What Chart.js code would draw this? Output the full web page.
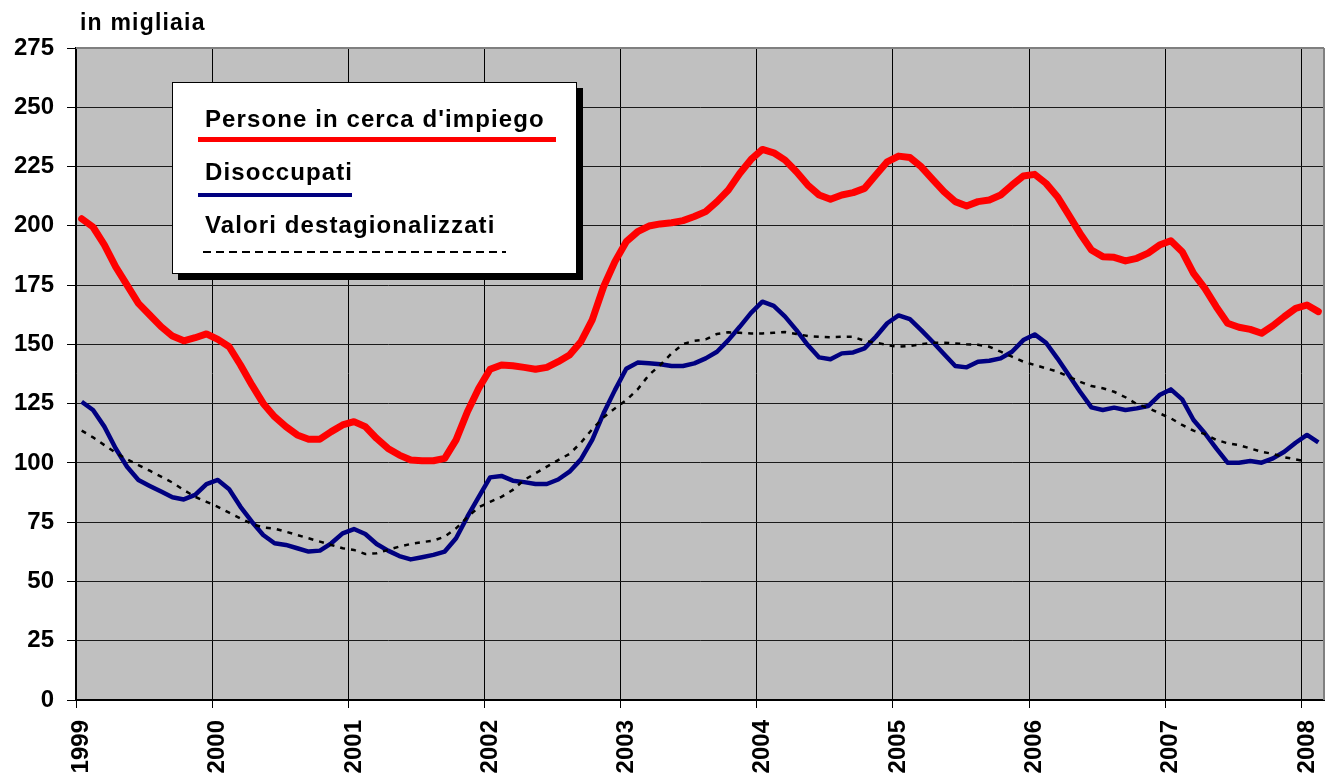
<!DOCTYPE html>
<html>
<head>
<meta charset="utf-8">
<script src="https://cdn.jsdelivr.net/npm/chart.js@4/dist/chart.umd.min.js"></script>
<style>
  html, body { margin: 0; padding: 0; background: #fff; }
  #wrap { position: relative; width: 1331px; height: 782px; font-family: "Liberation Sans", Arial, sans-serif; font-weight: bold; color: #000; }
  canvas { position: absolute; left: 0; top: 0; }
  .t { position: absolute; white-space: nowrap; line-height: 24px; height: 24px; }
  #unit { left: 80px; top: 10px; font-size: 23px; letter-spacing: 1.2px; }
  #legbox { position: absolute; left: 172px; top: 82px; width: 403px; height: 190px; background: #fff; border: 1px solid #000; box-shadow: 6px 6px 0 #000; }
  .lt { font-size: 24px; letter-spacing: 1.1px; }
  .ln { position: absolute; }
</style>
</head>
<body>
<div id="wrap">
  <canvas id="c" width="1331" height="782"></canvas>
  <div id="unit" class="t">in migliaia</div>
  <div id="legbox"></div>
  <div class="t lt" id="l1" style="left:205px; top:107px;"></div>
  <div class="ln" style="left:198px; top:137px; width:358px; height:5px; background:#ff0000;"></div>
  <div class="t lt" id="l2" style="left:205px; top:160px;"></div>
  <div class="ln" style="left:198px; top:193px; width:154px; height:4px; background:#000080;"></div>
  <div class="t lt" id="l3" style="left:205px; top:213px;"></div>
  <div class="ln" style="left:203px; top:251px; width:303px; height:2px; background:repeating-linear-gradient(to right,#000 0 8px,transparent 8px 13px);"></div>
</div>
<script>
// ---- data ----
const years = ['1999','2000','2001','2002','2003','2004','2005','2006','2007','2008'];
const monthNames = ['gen','feb','mar','apr','mag','giu','lug','ago','set','ott','nov','dic'];
const categories = years.flatMap(y => monthNames.map(m => m + ' ' + y)).slice(0, 110);

const seriesNames = ["Persone in cerca d'impiego", 'Disoccupati', 'Valori destagionalizzati'];

const persone = [
  203, 199.5, 192, 182.7, 175, 167.3, 162.4, 157.5, 153.5, 151.5, 152.8, 154.4,
  152.1, 149, 141.3, 132.9, 125.1, 119.5, 115.3, 111.8, 110, 110, 113.2, 116,
  117.4, 115.3, 110.3, 106.1, 103.3, 101.2, 100.9, 100.9, 101.9, 109.7, 121.6, 131.5,
  139.5, 141.3, 141, 140.3, 139.5, 140.3, 142.7, 145.5, 151.1, 160.3, 174.3, 184.9,
  193.3, 197.5, 199.9, 200.8, 201.3, 202.2, 203.9, 206, 210.2, 215.1, 222.1, 228,
  232.2, 230.8, 227.7, 222.8, 217.2, 213, 211.2, 213, 214, 215.8, 221.4, 227,
  229.4, 228.8, 224.9, 219.6, 214.4, 210.2, 208.4, 210.2, 210.9, 213, 217.2, 221,
  221.7, 217.9, 212.3, 204.6, 196.8, 189.8, 187, 186.7, 185.2, 186.3, 188.5, 191.9,
  193.7, 189.1, 179.9, 173.6, 165.9, 158.9, 157.2, 156.3, 154.7, 157.9, 161.7, 165.2,
  166.6, 163.8
];

const disoccupati = [
  125.8, 122.3, 115.3, 106.1, 98.4, 92.8, 90.3, 87.9, 85.5, 84.6, 86.5, 91.1,
  92.8, 88.9, 81.5, 75.2, 69.6, 66.1, 65.4, 64, 62.6, 63, 66.1, 70.3,
  72.1, 70, 65.8, 63, 60.7, 59.3, 60.2, 61.2, 62.6, 68.2, 77.3, 85.7,
  93.9, 94.5, 92.5, 91.9, 91.1, 91.1, 93, 96.3, 101.5, 109.7, 120.9, 130.7,
  139.7, 142.3, 142, 141.6, 140.9, 140.9, 142, 144.1, 146.9, 151.8, 157.4, 163.3,
  168, 166.2, 161.7, 156, 149.7, 144.5, 143.7, 146.2, 146.6, 148.3, 153.2, 158.9,
  162.2, 160.6, 156, 151.1, 145.9, 140.9, 140.3, 142.7, 143.1, 144.1, 146.9, 151.8,
  154.2, 150.7, 144.1, 137.1, 130, 123.4, 122.3, 123.3, 122.3, 123, 124, 128.6,
  131, 126.8, 118.1, 112.5, 106.1, 100.1, 100.1, 100.8, 100.1, 101.9, 104.7, 108.5,
  111.8, 108.7
];

const destagionalizzati = [
  113.6, 110.8, 107.5, 104.3, 101.5, 99.1, 96.7, 94.2, 91.7, 88.6, 85.7, 83.6,
  81.5, 79, 76.6, 74.2, 72.8, 72.3, 71, 69.6, 68.2, 66.8, 65.4, 64,
  63.3, 61.6, 61.9, 63.3, 64.7, 65.8, 66.6, 67.2, 68.9, 72.4, 77.1, 81.3,
  83.6, 85.7, 88.6, 92.8, 95.6, 98.4, 101.2, 103.8, 108.5, 114.2, 119.2, 123,
  126.5, 131, 137.1, 141.3, 146.2, 150.1, 151.5, 152.1, 154.4, 155.1, 154.9, 154.6,
  154.6, 154.9, 155.2, 154.4, 153.5, 153.2, 153, 153.2, 153.2, 151.5, 150.7, 149.7,
  149, 149.3, 150.1, 150.7, 150.7, 150.4, 150, 149.8, 149, 146.9, 144.8, 142.7,
  141.3, 139.9, 138.5, 136.4, 134.2, 132.4, 131.5, 130, 127.7, 124.8, 123.2, 120.9,
  118.8, 116, 113.6, 112.2, 109.7, 108.3, 107.5, 106.1, 104.7, 103.8, 102.4, 101.5,
  100.5, null
];

const yTicks = [0, 25, 50, 75, 100, 125, 150, 175, 200, 225, 250, 275];
// ---- end data ----

document.getElementById('l1').textContent = seriesNames[0];
document.getElementById('l2').textContent = seriesNames[1];
document.getElementById('l3').textContent = seriesNames[2];

const plotBg = {
  id: 'plotBg',
  beforeDraw(chart) {
    const { ctx, chartArea: a } = chart;
    ctx.save();
    ctx.fillStyle = '#c0c0c0';
    ctx.fillRect(a.left, a.top, a.right - a.left, a.bottom - a.top);
    ctx.restore();
  },
  beforeDatasetsDraw(chart) {
    const { ctx, chartArea: a } = chart;
    ctx.save();
    ctx.strokeStyle = '#808080';
    ctx.lineWidth = 2;
    ctx.beginPath();
    ctx.moveTo(a.left, a.top);
    ctx.lineTo(a.right, a.top);
    ctx.moveTo(a.right, a.top);
    ctx.lineTo(a.right, a.bottom);
    ctx.stroke();
    ctx.restore();
  }
};

const font = { family: '"Liberation Sans", Arial, sans-serif', size: 24, weight: 'bold' };

new Chart(document.getElementById('c'), {
  type: 'line',
  data: {
    labels: categories,
    datasets: [
      { label: seriesNames[0], data: persone, borderColor: '#ff0000', borderWidth: 7, pointRadius: 0, tension: 0, borderJoinStyle: 'round', borderCapStyle: 'round', order: 3 },
      { label: seriesNames[1], data: disoccupati, borderColor: '#000080', borderWidth: 4.5, pointRadius: 0, tension: 0, borderJoinStyle: 'round', order: 2 },
      { label: seriesNames[2], data: destagionalizzati, borderColor: '#000', borderWidth: 2.5, borderDash: [5, 6], pointRadius: 0, tension: 0, spanGaps: false, order: 1 }
    ]
  },
  options: {
    responsive: false,
    animation: false,
    devicePixelRatio: 1,
    layout: { padding: { top: 48, right: 7, left: 0, bottom: 0 } },
    plugins: { legend: { display: false }, tooltip: { enabled: false }, title: { display: false } },
    scales: {
      x: {
        type: 'category',
        offset: true,
        afterFit(s) { s.height = 82; s.paddingLeft = 0; s.paddingRight = 0; },
        grid: {
          offset: true,
          drawTicks: true,
          tickLength: 8,
          lineWidth: 1,
          color: (c) => (c.index % 12 === 0 ? '#000' : 'rgba(0,0,0,0)')
        },
        border: { display: true, color: '#000', width: 2 },
        ticks: {
          autoSkip: false,
          maxRotation: 90,
          minRotation: 90,
          padding: 12,
          color: '#000',
          font: font,
          callback: (v, i) => (i % 12 === 0 ? years[i / 12] : '')
        }
      },
      y: {
        min: 0,
        max: 275,
        afterFit(s) { s.width = 76; s.paddingTop = 0; s.paddingBottom = 0; },
        afterBuildTicks(s) { s.ticks = yTicks.map(v => ({ value: v })); },
        grid: {
          drawTicks: true,
          tickLength: 9,
          lineWidth: 1,
          color: (c) => (c.tick && c.tick.value === 275 ? '#808080' : '#1a1a1a'),
          tickColor: '#000'
        },
        border: { display: true, color: '#000', width: 1.5 },
        ticks: {
          padding: 13,
          color: '#000',
          font: font
        }
      }
    }
  },
  plugins: [plotBg]
});
</script>
</body>
</html>
